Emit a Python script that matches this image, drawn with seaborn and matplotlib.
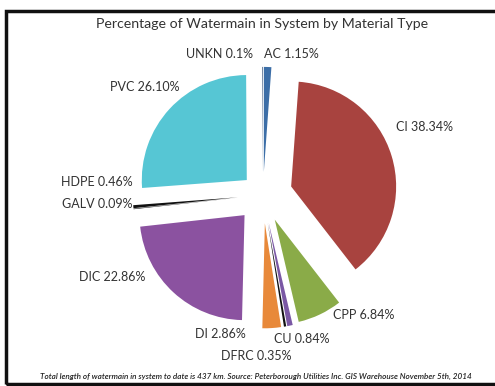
import numpy as np
import seaborn as sns
import matplotlib.pyplot as plt
from matplotlib.patches import Rectangle

# data (clockwise from the top)
materials = ["AC", "CI", "CPP", "CU", "DFRC", "DI", "DIC", "GALV", "HDPE", "PVC", "UNKN"]
share_pct = [1.15, 38.34, 6.84, 0.84, 0.35, 2.86, 22.86, 0.09, 0.46, 26.10, 0.1]
share_txt = ["1.15", "38.34", "6.84", "0.84", "0.35", "2.86", "22.86", "0.09", "0.46", "26.10", "0.1"]

colors = ["#3c6ea7", "#a8433f", "#8aab48", "#7a58a4", "#111111", "#e8893a",
          "#8b52a0", "#111111", "#111111", "#56c6d4", "#2a4670"]
explode_frac = [0.22, 0.28, 0.26, 0.27, 0.27, 0.27, 0.26, 0.24, 0.24, 0.21, 0.22]

# label spots in pixel space (x, y from top)
label_xy = {"AC": (291, 54), "CI": (425, 127), "CPP": (364, 315), "CU": (302, 339),
            "DFRC": (256, 356), "DI": (220, 334), "DIC": (112, 277), "GALV": (97, 204),
            "HDPE": (97, 182), "PVC": (145, 87), "UNKN": (220, 54)}

W, H = 495, 386
R = 105
sns.set_theme(style="white")
plt.rcParams["font.family"] = ["Lato", "DejaVu Sans"]

fig = plt.figure(figsize=(W / 100, H / 100), dpi=100)
ax = fig.add_axes([0, 0, 1, 1])

# pie explode is in data units, so scale by the radius
ax.pie(share_pct, colors=sns.color_palette(colors), explode=[e * R for e in explode_frac],
       startangle=90, counterclock=False, center=(263, H - 195), radius=R,
       wedgeprops=dict(linewidth=0))

ax.set_xlim(0, W)
ax.set_ylim(0, H)
ax.set_aspect("equal")
ax.axis("off")

for m, t in zip(materials, share_txt):
    x, y = label_xy[m]
    ax.text(x, H - y, f"{m} {t}%", ha="center", va="center", fontsize=9, color="#333333")

ax.text(262, H - 24, "Percentage of Watermain in System by Material Type",
        ha="center", va="center", fontsize=10.2, color="#333333")
ax.text(256, H - 376, "Total length of watermain in system to date is 437 km. "
        "Source: Peterborough Utilities Inc. GIS Warehouse November 5th, 2014",
        ha="center", va="center", fontsize=5.9, style="italic", weight="semibold",
        color="#222222")

# frame, right side runs off the picture
ax.add_patch(Rectangle((6, H - 384), 520, 373, fill=False, lw=2.5, ec="#111111"))

fig.savefig("out.png", dpi=100)
